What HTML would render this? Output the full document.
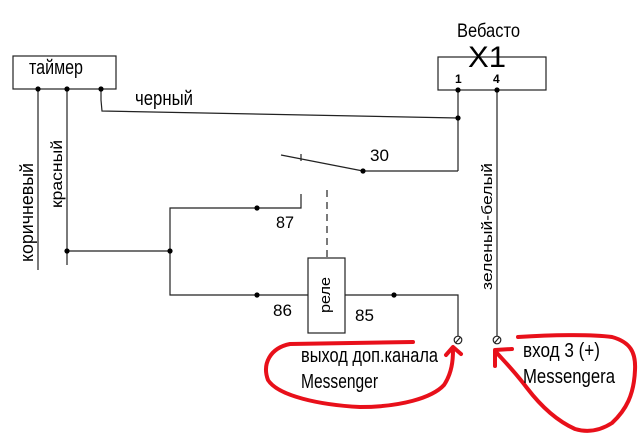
<!DOCTYPE html>
<html><head><meta charset="utf-8"><style>
html,body{margin:0;padding:0;background:#fff;}
svg{display:block;}
text{font-family:"Liberation Sans",Arial,sans-serif;fill:#000;}
</style></head><body>
<svg width="640" height="445" viewBox="0 0 640 445" xmlns="http://www.w3.org/2000/svg">
<rect width="640" height="445" fill="#fff"/>
<g stroke="#222" stroke-width="1.2" fill="none">
  <rect x="13" y="56" width="103" height="33"/>
  <rect x="438" y="57" width="108" height="33"/>
  <line x1="38" y1="89" x2="38" y2="270"/>
  <line x1="67" y1="89" x2="67" y2="265"/>
  <polyline points="101,89 101,100 102,111 458,118"/>
  <line x1="458" y1="90" x2="458" y2="171"/>
  <polyline points="458,171 363,171"/>
  <line x1="281" y1="155" x2="363" y2="171"/>
  <line x1="301" y1="154" x2="301" y2="161"/>
  <polyline points="301,194 301,208 170,208 170,295 308,295"/>
  <line x1="67" y1="251" x2="170" y2="251"/>
  <line x1="327" y1="190" x2="327" y2="258" stroke-dasharray="7 5"/>
  <rect x="308" y="258" width="37" height="75"/>
  <polyline points="345,295 458,295 458,336"/>
  <line x1="497" y1="90" x2="497" y2="336"/>
  <circle cx="458" cy="340" r="3.8"/>
  <line x1="455.5" y1="343" x2="460.5" y2="337"/>
  <circle cx="497" cy="340" r="3.8"/>
  <line x1="494.5" y1="343" x2="499.5" y2="337"/>
</g>
<g fill="#000">
  <circle cx="38" cy="89" r="2.6"/>
  <circle cx="67" cy="89" r="2.6"/>
  <circle cx="101" cy="89" r="2.6"/>
  <circle cx="458" cy="90" r="2.6"/>
  <circle cx="497" cy="90" r="2.6"/>
  <circle cx="458" cy="118" r="2.6"/>
  <circle cx="363" cy="171" r="2.6"/>
  <circle cx="257" cy="208" r="2.6"/>
  <circle cx="67" cy="251" r="2.6"/>
  <circle cx="170" cy="251" r="2.6"/>
  <circle cx="257" cy="295" r="2.6"/>
  <circle cx="394" cy="295" r="2.6"/>
</g>
<g stroke="#e8101a" stroke-width="4" fill="none" stroke-linecap="round" stroke-linejoin="round">
  <path d="M413 342 L290 344 C270 348 262 364 268 380 C278 396 320 405 360 407 C400 407 432 398 444 385 C452 373 453 360 453 350"/>
  <path d="M446 355 L453 347 L461 354"/>
  <path d="M518 337 C550 335 590 334 612 337 C630 342 636 352 635 370 C634 395 626 410 612 423 C598 432 585 432 575 429 C555 420 540 405 527 388 C515 372 505 362 496 352"/>
  <path d="M512 349 L495 350 L495 366"/>
</g>
<text x="29" y="74" font-size="20" textLength="54" lengthAdjust="spacingAndGlyphs">таймер</text>
<text x="135" y="105" font-size="20" textLength="58" lengthAdjust="spacingAndGlyphs">черный</text>
<text x="457" y="37" font-size="19.5" textLength="63" lengthAdjust="spacingAndGlyphs">Вебасто</text>
<text x="468" y="67" font-size="30" textLength="38" lengthAdjust="spacingAndGlyphs">X1</text>
<text x="455" y="83" font-size="12" font-weight="bold">1</text>
<text x="493" y="83" font-size="12" font-weight="bold">4</text>
<text x="370" y="161" font-size="17" textLength="19" lengthAdjust="spacingAndGlyphs">30</text>
<text x="276" y="228" font-size="17" textLength="18" lengthAdjust="spacingAndGlyphs">87</text>
<text x="273" y="316" font-size="17" textLength="19" lengthAdjust="spacingAndGlyphs">86</text>
<text x="355" y="321" font-size="17" textLength="19" lengthAdjust="spacingAndGlyphs">85</text>
<text x="301" y="362" font-size="20" textLength="137" lengthAdjust="spacingAndGlyphs">выход доп.канала</text>
<text x="301" y="388" font-size="20" textLength="77" lengthAdjust="spacingAndGlyphs">Messenger</text>
<text x="523" y="357" font-size="20" textLength="77" lengthAdjust="spacingAndGlyphs">вход 3 (+)</text>
<text x="523" y="383" font-size="20" textLength="92" lengthAdjust="spacingAndGlyphs">Messengera</text>
<text transform="translate(33,262) rotate(-90)" font-size="18" textLength="99" lengthAdjust="spacingAndGlyphs">коричневый</text>
<text transform="translate(62,208) rotate(-90) scale(1,0.9)" font-size="17.5" textLength="68" lengthAdjust="spacingAndGlyphs">красный</text>
<text transform="translate(492,290) rotate(-90) scale(1,0.85)" font-size="17.5" textLength="127" lengthAdjust="spacingAndGlyphs">зеленый-белый</text>
<text transform="translate(330,313) rotate(-90) scale(1,0.9)" font-size="16" textLength="36" lengthAdjust="spacingAndGlyphs">реле</text>
</svg>
</body></html>
